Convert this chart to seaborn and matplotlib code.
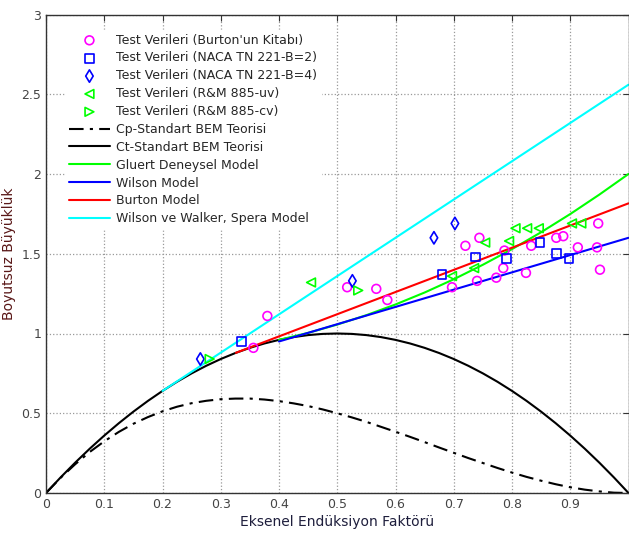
import numpy as np
import pandas as pd
import matplotlib
matplotlib.use("Agg")
import matplotlib.pyplot as plt
import seaborn as sns

# Test data (axial induction factor a, thrust coefficient)
burton_a = [0.356, 0.380, 0.517, 0.567, 0.586, 0.697, 0.720, 0.744, 0.740, 0.773,
            0.785, 0.787, 0.824, 0.833, 0.876, 0.888, 0.913, 0.948, 0.946, 0.951]
burton_ct = [0.91, 1.11, 1.29, 1.28, 1.21, 1.29, 1.55, 1.60, 1.33, 1.35,
             1.41, 1.52, 1.38, 1.55, 1.60, 1.61, 1.54, 1.69, 1.54, 1.40]

naca2_a = [0.335, 0.680, 0.738, 0.790, 0.848, 0.876, 0.898]
naca2_ct = [0.95, 1.37, 1.48, 1.47, 1.57, 1.50, 1.47]

naca4_a = [0.265, 0.526, 0.666, 0.702]
naca4_ct = [0.84, 1.33, 1.60, 1.69]

rm_uv_a = [0.455, 0.697, 0.735, 0.754, 0.795, 0.806, 0.826, 0.846, 0.903, 0.919]
rm_uv_ct = [1.32, 1.36, 1.41, 1.57, 1.58, 1.66, 1.66, 1.66, 1.69, 1.69]

rm_cv_a = [0.281, 0.536]
rm_cv_ct = [0.84, 1.27]

# Model curves
a_bem = [0.0, 0.025, 0.05, 0.075, 0.10, 0.125, 0.15, 0.175, 0.20, 0.225, 0.25,
         0.275, 0.30, 0.325, 0.35, 0.375, 0.40, 0.425, 0.45, 0.475, 0.50,
         0.525, 0.55, 0.575, 0.60, 0.625, 0.65, 0.675, 0.70, 0.725, 0.75,
         0.775, 0.80, 0.825, 0.85, 0.875, 0.90, 0.925, 0.95, 0.975, 1.0]
ct_bem = [0.0, 0.0975, 0.19, 0.2775, 0.36, 0.4375, 0.51, 0.5775, 0.64, 0.6975, 0.75,
          0.7975, 0.84, 0.8775, 0.91, 0.9375, 0.96, 0.9775, 0.99, 0.9975, 1.0,
          0.9975, 0.99, 0.9775, 0.96, 0.9375, 0.91, 0.8775, 0.84, 0.7975, 0.75,
          0.6975, 0.64, 0.5775, 0.51, 0.4375, 0.36, 0.2775, 0.19, 0.0975, 0.0]
cp_bem = [0.0, 0.095, 0.18, 0.257, 0.324, 0.383, 0.434, 0.476, 0.512, 0.541, 0.563,
          0.578, 0.588, 0.592, 0.592, 0.586, 0.576, 0.562, 0.545, 0.524, 0.5,
          0.474, 0.446, 0.415, 0.384, 0.352, 0.319, 0.285, 0.252, 0.219, 0.188,
          0.157, 0.128, 0.101, 0.077, 0.055, 0.036, 0.021, 0.01, 0.002, 0.0]

a_glauert = [0.40, 0.45, 0.50, 0.55, 0.60, 0.65, 0.70, 0.75, 0.80, 0.85, 0.90, 0.95, 1.0]
ct_glauert = [0.96, 1.004, 1.056, 1.115, 1.182, 1.257, 1.34, 1.431, 1.529, 1.635, 1.749, 1.871, 2.0]

a_wilson = [0.40, 1.0]
ct_wilson = [0.95, 1.60]

a_burton = [0.326, 1.0]
ct_burton = [0.879, 1.816]

a_spera = [0.20, 1.0]
ct_spera = [0.64, 2.56]

x_ticks = [0, 0.1, 0.2, 0.3, 0.4, 0.5, 0.6, 0.7, 0.8, 0.9, 1.0]
x_ticklabels = ["0", "0.1", "0.2", "0.3", "0.4", "0.5", "0.6", "0.7", "0.8", "0.9", ""]
y_ticks = [0, 0.5, 1, 1.5, 2, 2.5, 3]
y_ticklabels = ["0", "0.5", "1", "1.5", "2", "2.5", "3"]

sns.set_style("white")
plt.rcParams['font.family'] = ['DejaVu Sans']

fig = plt.figure(figsize=(6.29, 5.36), dpi=100)
ax = fig.add_axes([46 / 629, 43 / 536, 582.5 / 629, 478.5 / 536])

mk = dict(s=40, facecolor="none", linewidth=1.2, zorder=5, ax=ax)
sns.scatterplot(x=burton_a, y=burton_ct, marker="o", edgecolor="#ff00ff",
                label="Test Verileri (Burton'un Kitabı)", **mk)
sns.scatterplot(x=naca2_a, y=naca2_ct, marker="s", edgecolor="#0000ff",
                label="Test Verileri (NACA TN 221-B=2)", **mk)
sns.scatterplot(x=naca4_a, y=naca4_ct, marker="d", edgecolor="#0000ff",
                label="Test Verileri (NACA TN 221-B=4)", **mk)
sns.scatterplot(x=rm_uv_a, y=rm_uv_ct, marker="<", edgecolor="#00ff00",
                label="Test Verileri (R&M 885-uv)", **mk)
sns.scatterplot(x=rm_cv_a, y=rm_cv_ct, marker=">", edgecolor="#00ff00",
                label="Test Verileri (R&M 885-cv)", **mk)

ln = dict(sort=False, estimator=None, lw=1.5, ax=ax)
sns.lineplot(x=a_bem, y=cp_bem, color="black", linestyle=(0, (7, 3, 1.5, 3)),
             label="Cp-Standart BEM Teorisi", **ln)
sns.lineplot(x=a_bem, y=ct_bem, color="black", label="Ct-Standart BEM Teorisi", **ln)
sns.lineplot(x=a_glauert, y=ct_glauert, color="#00ff00", label="Gluert Deneysel Model", **ln)
sns.lineplot(x=a_wilson, y=ct_wilson, color="#0000ff", label="Wilson Model", **ln)
sns.lineplot(x=a_burton, y=ct_burton, color="#ff0000", label="Burton Model", **ln)
sns.lineplot(x=a_spera, y=ct_spera, color="#00ffff", label="Wilson ve Walker, Spera Model", **ln)

ax.set_xlim(0, 1)
ax.set_ylim(0, 3)
ax.set_xticks(x_ticks)
ax.set_xticklabels(x_ticklabels)
ax.set_yticks(y_ticks)
ax.set_yticklabels(y_ticklabels)
ax.grid(True, linestyle=":", color="#999999", linewidth=0.9)
ax.tick_params(direction="in", top=True, right=True, length=4, width=0.8,
               labelsize=9, labelcolor="#444444", color="#333333")
for sp in ax.spines.values():
    sp.set_color("#333333")
    sp.set_linewidth(1.0)

ax.set_xlabel("Eksenel Endüksiyon Faktörü", fontsize=10, color="#1e1e3c", labelpad=3)
ax.set_ylabel("Boyutsuz Büyüklük", fontsize=10, color="#5a1818", labelpad=4)

leg = ax.legend(loc="upper left", bbox_to_anchor=(0.022, 0.981), fontsize=9,
                frameon=True, fancybox=False, framealpha=1, facecolor="white",
                edgecolor="white", handlelength=3.3, handletextpad=0.5,
                labelspacing=0.39, borderpad=0.3)
leg.set_zorder(10)

fig.savefig("out.png", dpi=100)
